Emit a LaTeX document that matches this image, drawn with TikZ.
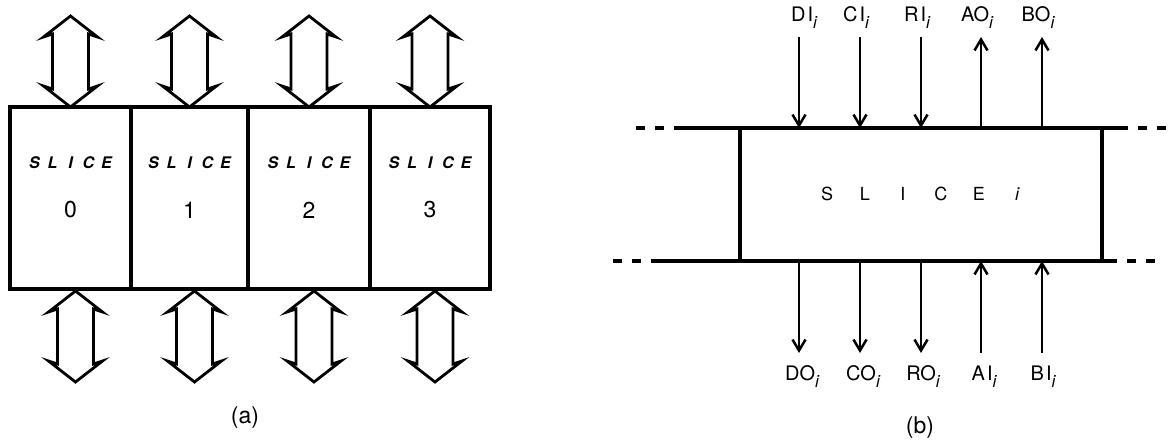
\documentclass[tikz,border=0pt]{standalone}
\usepackage{fontspec}
\setmainfont{TeX Gyre Heros}
\usetikzlibrary{arrows.meta,calc}
\newcommand\subi{\raisebox{-7pt}{\fontsize{17}{17}\selectfont\itshape i}}
\newcommand\slicea{{\fontsize{16}{16}\selectfont\bfseries\itshape\makebox[18pt]{S}\makebox[18pt]{L}\makebox[18pt]{I}\makebox[18pt]{C}\makebox[18pt]{E}}}
\newcommand\sliceb{{\fontsize{18}{18}\selectfont\makebox[38pt]{S}\makebox[38pt]{L}\makebox[38pt]{I}\makebox[38pt]{C}\makebox[38pt]{E}\makebox[38pt]{\itshape i}}}
\begin{document}
\begin{tikzpicture}[x=1pt,y=-1pt,line join=miter]
\useasboundingbox (0,0) rectangle (1175,439);
\tikzset{
  heavy/.style={line width=3.1pt},
  slicebox/.style={draw,heavy,minimum height=182pt,inner sep=0pt,outer sep=0pt},
  lbl/.style={font=\fontsize{20}{20}\selectfont,inner sep=0pt},
  bigtxt/.style={font=\fontsize{23}{23}\selectfont,inner sep=0pt},
  sig/.style={line width=2.5pt,-{Straight Barb[length=11pt,width=13pt]}},
  dbl/.pic={\draw[line width=2.8pt,line join=miter]
     (0,0) -- (-27,21) -- (-18,18) -- (-18,73) -- (-27,70) -- (0,91)
     -- (27,70) -- (18,73) -- (18,18) -- (27,21) -- cycle;}
}
% ---------------- (a)
\node[slicebox,minimum width=121pt] (s0) at (70.5,198) {};
\node[slicebox,minimum width=117pt] (s1) at (189.5,198) {};
\node[slicebox,minimum width=122pt] (s2) at (309,198) {};
\node[slicebox,minimum width=120pt] (s3) at (430,198) {};
\foreach \i/\x in {0/70.5,1/189.5,2/309,3/430}{
  \node[inner sep=0pt] (t\i) at (\x,163) {\slicea};
  \node[bigtxt] (n\i) at (\x,210) {\i};
  \pic at ($(s\i.north)+(0,-91)$) {dbl};
  \pic at ($(s\i.south)+(5,2)$) {dbl};
}
\node[bigtxt] (la) at (245,418) {(a)};
% ---------------- (b)
\node[minimum width=362pt,minimum height=133pt,inner sep=0pt,outer sep=0pt] (box) at (921,194.5) {};
\node[inner sep=0pt] (tb) at (922,194) {\sliceb};
\draw[heavy] (box.north west) -- (box.south west);
\draw[heavy] (box.north east) -- (box.south east);
\coordinate (tl) at (675,128);
\coordinate (tr) at (1128,128);
\coordinate (bl) at (653,261);
\coordinate (br) at (1117,261);
\coordinate (tld) at (636,128);
\coordinate (trd) at (1166,128);
\coordinate (bld) at (613,261);
\coordinate (brd) at (1156,261);
\draw[heavy] (tl) -- (tr);
\draw[heavy] (bl) -- (br);
\draw[heavy,dash pattern=on 9pt off 10pt] (tld) -- (tl);
\draw[heavy,dash pattern=on 9pt off 10pt,dash phase=9pt] (tr) -- (trd);
\draw[heavy,dash pattern=on 9pt off 10pt] (bld) -- (bl);
\draw[heavy,dash pattern=on 9pt off 10pt,dash phase=9pt] (br) -- (brd);
% top signals
\node[lbl] (DI) at (804,18) {D\kern2pt I\subi};
\node[lbl] (CI) at (856,18) {C\kern2pt I\subi};
\node[lbl] (RI) at (917,18) {R\kern2pt I\subi};
\node[lbl] (AO) at (977,18) {AO\subi};
\node[lbl] (BO) at (1038,18) {BO\subi};
\foreach \n/\x in {1/799,2/860,3/921,4/981,5/1042}{
  \coordinate (u\n) at (\x,37);
  \coordinate (d\n) at (\x,353);
}
\draw[sig] (u1) -- (u1 |- box.north);
\draw[sig] (u2) -- (u2 |- box.north);
\draw[sig] (u3) -- (u3 |- box.north);
\draw[sig] (u4 |- box.north) -- (u4);
\draw[sig] (u5 |- box.north) -- (u5);
% bottom signals
\draw[sig] (d1 |- box.south) -- (d1);
\draw[sig] (d2 |- box.south) -- (d2);
\draw[sig] (d3 |- box.south) -- (d3);
\draw[sig] (d4) -- (d4 |- box.south);
\draw[sig] (d5) -- (d5 |- box.south);
\node[lbl] (DO) at (802,377) {DO\subi};
\node[lbl] (CO) at (863,377) {CO\subi};
\node[lbl] (RO) at (923,377) {RO\subi};
\node[lbl] (AI) at (984,377) {A\kern2pt I\subi};
\node[lbl] (BI) at (1043,377) {B\kern2pt I\subi};
\node[bigtxt] (lb) at (920,428) {(b)};
\end{tikzpicture}
\end{document}
